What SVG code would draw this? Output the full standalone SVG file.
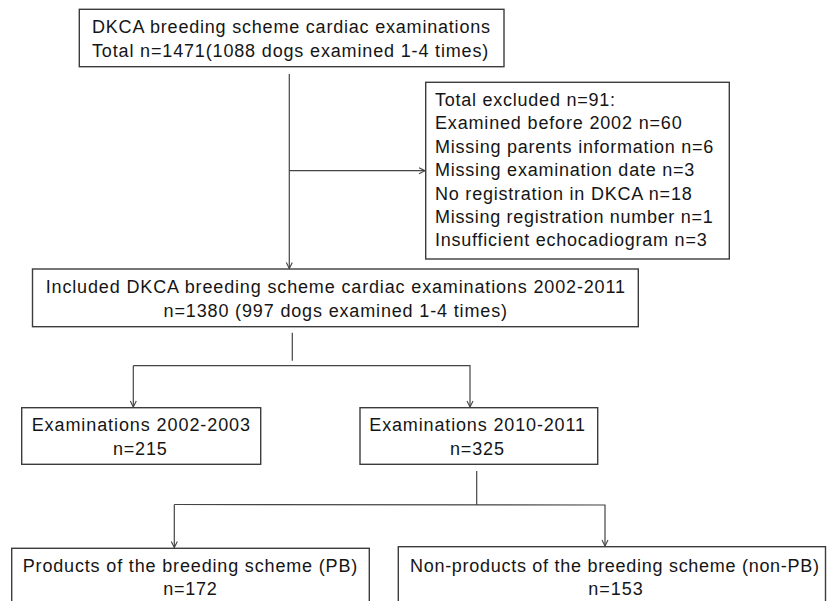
<svg xmlns="http://www.w3.org/2000/svg" width="829" height="601" viewBox="0 0 829 601">
<style>
.box{fill:#fff;stroke:#3c3c3c;stroke-width:1.4}
.t{font-family:"Liberation Sans",Arial,sans-serif;font-size:18px;fill:#151515}
.c{fill:none;stroke:#444;stroke-width:1.2}
</style>
<defs>
<marker id="ah" viewBox="0 0 8 8" refX="7" refY="4" markerWidth="8" markerHeight="8" markerUnits="userSpaceOnUse" orient="auto">
<path d="M1,1 L7,4 L1,7" fill="none" stroke="#444" stroke-width="1.1"/>
</marker>
</defs>
<rect width="829" height="601" fill="#fff"/>
<g id="connectors">
<line class="c" x1="289.3" y1="74" x2="289.3" y2="268.5" marker-end="url(#ah)"/>
<line class="c" x1="289.3" y1="170.7" x2="425" y2="170.7" marker-end="url(#ah)"/>
<line class="c" x1="292.3" y1="332.7" x2="292.3" y2="360.7"/>
<polyline class="c" points="133.3,365.7 470,365.7 470,407" marker-end="url(#ah)"/>
<line class="c" x1="133.3" y1="365.7" x2="133.3" y2="407" marker-end="url(#ah)"/>
<line class="c" x1="476.7" y1="471" x2="476.7" y2="505"/>
<polyline class="c" points="174.3,504.5 605,505 605,546" marker-end="url(#ah)"/>
<line class="c" x1="174.3" y1="504.5" x2="174.3" y2="547.6" marker-end="url(#ah)"/>
</g>
<g id="n-top">
<rect class="box" x="79.3" y="9.3" width="424.7" height="57.4"/>
<text class="t" x="92" y="33.3" textLength="398" lengthAdjust="spacing">DKCA breeding scheme cardiac examinations</text>
<text class="t" x="92" y="57.3" textLength="396.3" lengthAdjust="spacing">Total n=1471(1088 dogs examined 1-4 times)</text>
</g>
<g id="n-excluded">
<rect class="box" x="425.7" y="82.3" width="303.6" height="176.7"/>
<text class="t" x="435" y="106" textLength="180" lengthAdjust="spacing">Total excluded n=91:</text>
<text class="t" x="435" y="129.4" textLength="246.7" lengthAdjust="spacing">Examined before 2002 n=60</text>
<text class="t" x="435" y="152.8" textLength="278.3" lengthAdjust="spacing">Missing parents information n=6</text>
<text class="t" x="435" y="176.2" textLength="259.3" lengthAdjust="spacing">Missing examination date n=3</text>
<text class="t" x="435" y="199.6" textLength="256.7" lengthAdjust="spacing">No registration in DKCA n=18</text>
<text class="t" x="435" y="223" textLength="277.7" lengthAdjust="spacing">Missing registration number n=1</text>
<text class="t" x="435" y="246.4" textLength="271.7" lengthAdjust="spacing">Insufficient echocadiogram n=3</text>
</g>
<g id="n-included">
<rect class="box" x="32.5" y="269" width="605.8" height="57.7"/>
<text class="t" x="45.7" y="293.4" textLength="579.3" lengthAdjust="spacing">Included DKCA breeding scheme cardiac examinations 2002-2011</text>
<text class="t" x="163.6" y="317.4" textLength="343.4" lengthAdjust="spacing">n=1380 (997 dogs examined 1-4 times)</text>
</g>
<g id="n-2002">
<rect class="box" x="21.7" y="407.7" width="239" height="56.6"/>
<text class="t" x="31.7" y="431" textLength="218.3" lengthAdjust="spacing">Examinations 2002-2003</text>
<text class="t" x="113" y="454.5" textLength="53.7" lengthAdjust="spacing">n=215</text>
</g>
<g id="n-2010">
<rect class="box" x="360" y="407.7" width="237.7" height="56.6"/>
<text class="t" x="369.3" y="431" textLength="215.7" lengthAdjust="spacing">Examinations 2010-2011</text>
<text class="t" x="450" y="454.5" textLength="54" lengthAdjust="spacing">n=325</text>
</g>
<g id="n-pb">
<rect class="box" x="11.7" y="548.3" width="357.6" height="70"/>
<text class="t" x="22.7" y="572" textLength="334.6" lengthAdjust="spacing">Products of the breeding scheme (PB)</text>
<text class="t" x="163.3" y="595" textLength="53.4" lengthAdjust="spacing">n=172</text>
</g>
<g id="n-nonpb">
<rect class="box" x="398.3" y="546.7" width="427.2" height="70"/>
<text class="t" x="410" y="572" textLength="409" lengthAdjust="spacing">Non-products of the breeding scheme (non-PB)</text>
<text class="t" x="588.3" y="595" textLength="54.4" lengthAdjust="spacing">n=153</text>
</g>
</svg>
